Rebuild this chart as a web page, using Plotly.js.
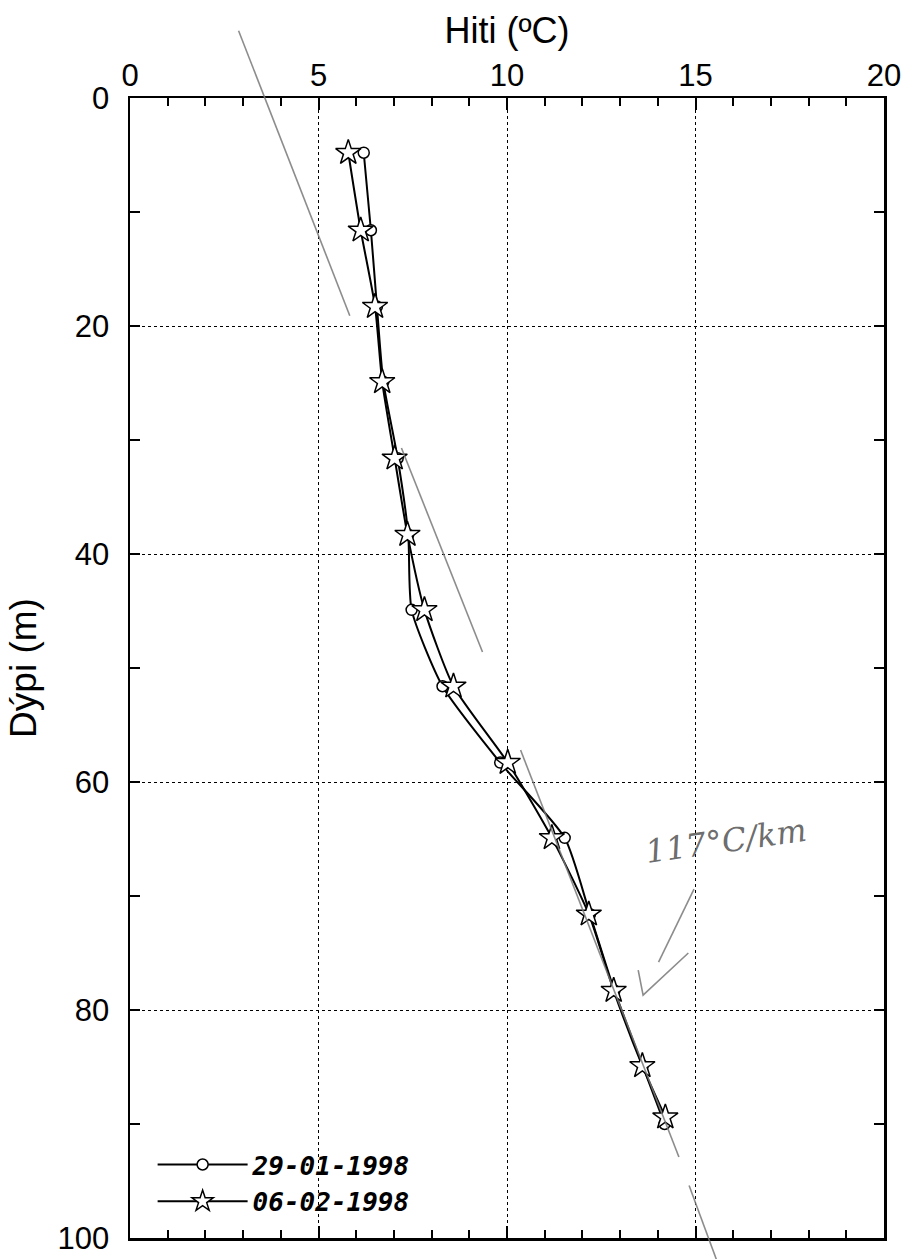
<!DOCTYPE html>
<html>
<head>
<meta charset="utf-8">
<script src="https://cdn.plot.ly/plotly-3.0.1.min.js"></script>
<style>html,body{margin:0;padding:0;background:#fff;}</style>
</head>
<body>
<div id="chart" style="width:901px;height:1259px;"></div>
<script>
// ---- data ----
const depthStar   = [4.8, 11.6, 18.3, 24.9, 31.6, 38.3, 44.9, 51.6, 58.3, 64.9, 71.6, 78.3, 84.9, 89.4];
const tempStar    = [5.79, 6.12, 6.50, 6.69, 7.02, 7.36, 7.81, 8.58, 10.02, 11.19, 12.17, 12.83, 13.59, 14.20];
const depthCircle = [4.8, 11.6, 18.3, 24.9, 31.6, 38.3, 44.9, 51.6, 58.3, 64.9, 71.6, 78.3, 84.9, 90.0];
const tempCircle  = [6.20, 6.39, 6.55, 6.72, 7.10, 7.38, 7.47, 8.29, 9.82, 11.53, 12.20, 12.85, 13.60, 14.18];
const seriesNames = ["29-01-1998", "06-02-1998"];
const xTickVals = [0, 5, 10, 15, 20];
const yTickVals = [0, 20, 40, 60, 80, 100];

// pencil marks on the scan (temperature, depth)
const pencilT = [[2.88, 5.83], [7.20, 9.35], [10.36, 14.56], [14.83, 15.59], [14.96, 14.02], [13.48, 13.61, 14.81]];
const pencilD = [[-5.9, 19.1], [30.7, 48.6], [57.2, 92.9], [95.4, 102.2], [69.4, 75.8], [76.5, 78.7, 75.0]];
const noteText = "117°C/km";
const noteT = 15.8, noteD = 65.2;

const xRange = [0, 20], yRange = [100, 0];
const toPx = t => (t - xRange[0]) / (xRange[1] - xRange[0]);
const toPy = d => (yRange[0] - d) / (yRange[0] - yRange[1]);

const shapes = pencilT.map((ts, i) => {
  let p = '';
  ts.forEach((t, j) => { p += (j ? ' L ' : 'M ') + toPx(t).toFixed(4) + ',' + toPy(pencilD[i][j]).toFixed(4); });
  return {type: 'path', xref: 'paper', yref: 'paper', path: p, line: {color: 'rgba(120,120,120,0.85)', width: 1.6}, layer: 'above'};
});

const traces = [
  {x: tempCircle, y: depthCircle, name: seriesNames[0], mode: 'lines+markers',
   line: {color: '#000', width: 2, shape: 'spline', smoothing: 0.6},
   marker: {symbol: 'circle', size: 11, color: '#fff', line: {color: '#000', width: 1.5}}, cliponaxis: false},
  {x: tempStar, y: depthStar, name: seriesNames[1], mode: 'lines+markers',
   line: {color: '#000', width: 2, shape: 'spline', smoothing: 0.6},
   marker: {symbol: 'star', size: 19, color: '#fff', line: {color: '#000', width: 1.5}}, cliponaxis: false}
];

const axisFont = {family: 'Liberation Sans, Arial, sans-serif', size: 31, color: '#000'};
const layout = {
  width: 901, height: 1259,
  margin: {l: 130, r: 17, t: 98, b: 21},
  paper_bgcolor: '#fff', plot_bgcolor: '#fff',
  showlegend: true,
  legend: {x: 0.03, y: 0.085, xanchor: 'left', yanchor: 'top', bgcolor: 'rgba(0,0,0,0)',
           font: {family: 'DejaVu Sans Mono', size: 26, weight: 'bold', style: 'italic', color: '#000'},
           tracegroupgap: 2, itemwidth: 90},
  xaxis: {side: 'top', range: xRange, tickvals: xTickVals, ticks: 'inside', ticklen: 12, tickwidth: 2,
          tickcolor: '#000', showline: true, linewidth: 2.5, linecolor: '#000', mirror: 'ticks',
          showgrid: true, gridcolor: '#000', gridwidth: 1, griddash: 'dot', zeroline: false,
          tickfont: axisFont, ticklabelstandoff: -3, ticklabeloverflow: 'allow',
          minor: {dtick: 1, ticks: 'inside', ticklen: 8, tickwidth: 2, tickcolor: '#000', showgrid: false},
          title: {text: 'Hiti (ºC)', font: {family: 'Liberation Sans, Arial, sans-serif', size: 36, color: '#000'}, standoff: 4}},
  yaxis: {range: yRange, tickvals: yTickVals, ticks: 'inside', ticklen: 10, tickwidth: 2,
          tickcolor: '#000', showline: true, linewidth: 2.5, linecolor: '#000', mirror: 'ticks',
          showgrid: true, gridcolor: '#000', gridwidth: 1, griddash: 'dot', zeroline: false,
          tickfont: axisFont, ticklabelstandoff: 12, ticklabeloverflow: 'allow',
          minor: {dtick: 10, ticks: 'inside', ticklen: 10, tickwidth: 2, tickcolor: '#000', showgrid: false},
          title: {text: 'Dýpi (m)', font: {family: 'Liberation Sans, Arial, sans-serif', size: 37, color: '#000'}, standoff: 10}},
  shapes: shapes,
  annotations: [{x: noteT, y: noteD, xref: 'x', yref: 'y', text: noteText, showarrow: false,
                 textangle: -8, font: {family: 'DejaVu Serif', size: 32, style: 'italic', color: 'rgba(90,90,90,0.9)'}}]
};

Plotly.newPlot('chart', traces, layout, {displayModeBar: false, staticPlot: true});
</script>
</body>
</html>
